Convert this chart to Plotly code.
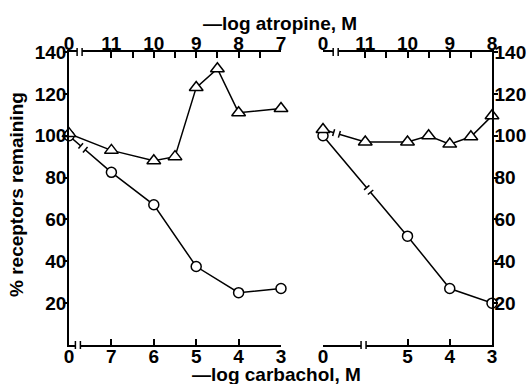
import math
import plotly.graph_objects as go

# ---------------- data ----------------
# left panel
carb_left = [0, 7, 6, 5, 4, 3]             # -log carbachol, M (bottom axis)
circ_left = [100, 82.5, 67, 37.5, 25, 27]   # % receptors remaining
atr_left = [0, 11, 10, 9.5, 9, 8.5, 8, 7]   # -log atropine, M (top axis)
tri_left = [101, 93, 88, 90, 123, 132, 111, 113]

# right panel
carb_right = [0, 5, 4, 3]
circ_right = [100, 52, 27, 20]
atr_right = [0, 11, 10, 9.5, 9, 8.5, 8]
tri_right = [103, 97, 97, 100, 96, 99.5, 109.5]

y_ticks = [20, 40, 60, 80, 100, 120, 140]
y_inner_ticks = [20, 40, 60, 80, 100, 120]

# axis layouts: value 0 sits just beyond the axis break
LB_ZERO, LT_ZERO = 8, 12      # left bottom / left top position of "0"
RB_ZERO, RT_ZERO = 7, 12      # right bottom / right top position of "0"


def place(vals, zero_pos):
    return [zero_pos if v == 0 else v for v in vals]


# ---------------- geometry ----------------
W, H = 529, 384
ML, MR, MT, MB = 69, 37, 52, 39
PW, PH = W - ML - MR, H - MT - MB
D1 = (281 - ML) / PW
D2 = (323 - ML) / PW

FONT = dict(family="Liberation Sans, Arial, sans-serif", size=19, color="black", weight="bold")
TFONT = dict(family="Liberation Sans, Arial, sans-serif", size=19, color="black", weight="bold")
LW = 1.5

fig = go.Figure()

mk_c = dict(symbol="circle", size=10, color="white", line=dict(color="black", width=LW))
mk_t = dict(symbol="triangle-up", size=12, color="white", line=dict(color="black", width=LW))
ln = dict(color="black", width=LW)

fig.add_trace(go.Scatter(x=place(carb_left, LB_ZERO), y=circ_left, mode="lines+markers",
                         marker=mk_c, line=ln, xaxis="x", yaxis="y", cliponaxis=False, showlegend=False))
fig.add_trace(go.Scatter(x=place(atr_left, LT_ZERO), y=tri_left, mode="lines+markers",
                         marker=mk_t, line=ln, xaxis="x2", yaxis="y", cliponaxis=False, showlegend=False))
fig.add_trace(go.Scatter(x=place(carb_right, RB_ZERO), y=circ_right, mode="lines+markers",
                         marker=mk_c, line=ln, xaxis="x3", yaxis="y2", cliponaxis=False, showlegend=False))
fig.add_trace(go.Scatter(x=place(atr_right, RT_ZERO), y=tri_right, mode="lines+markers",
                         marker=mk_t, line=ln, xaxis="x4", yaxis="y2", cliponaxis=False, showlegend=False))

common_x = dict(showline=True, linecolor="black", linewidth=LW, showgrid=False, zeroline=False,
                ticks="inside", ticklen=6, tickwidth=LW, tickcolor="black", tickfont=FONT,
                tickmode="array", fixedrange=True, automargin=False)
common_y = dict(showline=True, linecolor="black", linewidth=LW, showgrid=False, zeroline=False,
                tickwidth=LW, tickcolor="black", tickfont=FONT, range=[0, 140],
                tickmode="array", fixedrange=True, automargin=False)


def tv(vals, zero_pos):
    return place(vals, zero_pos), [str(v) for v in vals]


lb_v, lb_t = tv([0, 7, 6, 5, 4, 3], LB_ZERO)
lt_v, lt_t = tv([0, 11, 10, 9, 8, 7], LT_ZERO)
rb_v, rb_t = tv([0, 5, 4, 3], RB_ZERO)
rt_v, rt_t = tv([0, 11, 10, 9, 8], RT_ZERO)

fig.update_layout(
    width=W, height=H, margin=dict(l=ML, r=MR, t=MT, b=MB, autoexpand=False),
    paper_bgcolor="white", plot_bgcolor="white",
    xaxis=dict(common_x, domain=[0, D1], range=[LB_ZERO, 3], tickvals=lb_v, ticktext=lb_t,
               anchor="y", ticklabelstandoff=-7),
    xaxis2=dict(common_x, domain=[0, D1], range=[LT_ZERO, 7], tickvals=lt_v, ticktext=lt_t,
                overlaying="x", side="top", anchor="y", ticklabelstandoff=-7,
                minor=dict(tickmode="array", tickvals=[10.5, 9.5, 8.5, 7.5], ticks="inside",
                           ticklen=6, tickwidth=LW, tickcolor="black")),
    xaxis3=dict(common_x, domain=[D2, 1], range=[RB_ZERO, 3], tickvals=rb_v, ticktext=rb_t,
                anchor="y2", ticklabelstandoff=-7),
    xaxis4=dict(common_x, domain=[D2, 1], range=[RT_ZERO, 8], tickvals=rt_v, ticktext=rt_t,
                overlaying="x3", side="top", anchor="y2", ticklabelstandoff=-7,
                minor=dict(tickmode="array", tickvals=[10.5, 9.5, 8.5], ticks="inside",
                           ticklen=6, tickwidth=LW, tickcolor="black")),
    yaxis=dict(common_y, anchor="x", side="left", ticks="outside", ticklen=4, tickvals=y_ticks,
               ticklabelstandoff=-7),
    yaxis2=dict(common_y, anchor="x3", side="right", ticks="outside", ticklen=4, tickvals=y_ticks,
                ticklabelstandoff=-7),
    yaxis3=dict(common_y, anchor="x", side="right", overlaying="y", ticks="inside", ticklen=6,
                tickvals=y_inner_ticks, showticklabels=False),
    yaxis4=dict(common_y, anchor="x3", side="left", overlaying="y2", ticks="inside", ticklen=6,
                tickvals=y_inner_ticks, showticklabels=False),
)

# ---------------- break glyphs ----------------
shapes = []
ppy = PH / 140.0


def axis_break(xref, center, ppx, ytop):
    """gap with small end bars on a horizontal axis line (paper y = ytop)"""
    g = 2.5 / ppx
    dy = 4.0 / PH
    shapes.append(dict(type="rect", xref=xref, yref="paper", x0=center - g, x1=center + g,
                       y0=ytop - 3.0 / PH, y1=ytop + 3.0 / PH, fillcolor="white",
                       line=dict(width=0), layer="above"))
    for s in (-1, 1):
        shapes.append(dict(type="line", xref=xref, yref="paper", x0=center + s * g, x1=center + s * g,
                           y0=ytop - dy, y1=ytop + dy, line=dict(color="black", width=LW), layer="above"))


def line_break(xref, yref, r0, ppx, p0, p1, t):
    """gap with perpendicular end bars on a data line between points p0 and p1"""
    X0, Y0 = (r0 - p0[0]) * ppx, p0[1] * ppy
    X1, Y1 = (r0 - p1[0]) * ppx, p1[1] * ppy
    L = math.hypot(X1 - X0, Y1 - Y0)
    ux, uy = (X1 - X0) / L, (Y1 - Y0) / L
    nx, ny = -uy, ux
    CX, CY = X0 + t * (X1 - X0), Y0 + t * (Y1 - Y0)
    g, b = 3.0, 3.5

    def back(X, Y):
        return r0 - X / ppx, Y / ppy

    a = back(CX - g * ux, CY - g * uy)
    c = back(CX + g * ux, CY + g * uy)
    shapes.append(dict(type="line", xref=xref, yref=yref, x0=a[0], y0=a[1], x1=c[0], y1=c[1],
                       line=dict(color="white", width=4), layer="above"))
    for s in (-1, 1):
        EX, EY = CX + s * g * ux, CY + s * g * uy
        q0 = back(EX - b * nx, EY - b * ny)
        q1 = back(EX + b * nx, EY + b * ny)
        shapes.append(dict(type="line", xref=xref, yref=yref, x0=q0[0], y0=q0[1], x1=q1[0], y1=q1[1],
                           line=dict(color="black", width=LW), layer="above"))


ppx_l = D1 * PW / (LB_ZERO - 3)
ppx_lt = D1 * PW / (LT_ZERO - 7)
ppx_r = (1 - D2) * PW / (RB_ZERO - 3)
ppx_rt = (1 - D2) * PW / (RT_ZERO - 8)

axis_break("x2", 11.75, ppx_lt, 1.0)
axis_break("x", 7.79, ppx_l, 0.0)
axis_break("x4", 11.70, ppx_rt, 1.0)
axis_break("x3", 6.04, ppx_r, 0.0)

cl = place(carb_left, LB_ZERO)
line_break("x", "y", LB_ZERO, ppx_l, (cl[0], circ_left[0]), (cl[1], circ_left[1]), 0.33)
tr = place(atr_right, RT_ZERO)
line_break("x4", "y2", RT_ZERO, ppx_rt, (tr[0], tri_right[0]), (tr[1], tri_right[1]), 0.32)
cr = place(carb_right, RB_ZERO)
line_break("x3", "y2", RB_ZERO, ppx_r, (cr[0], circ_right[0]), (cr[1], circ_right[1]), 0.54)

fig.update_layout(shapes=shapes)

# ---------------- titles ----------------
fig.add_annotation(text="—log atropine, M", xref="paper", yref="paper",
                   x=(280 - ML) / PW, y=(H - MB - 24) / PH, showarrow=False, font=TFONT,
                   xanchor="center", yanchor="middle")
fig.add_annotation(text="—log carbachol, M", xref="paper", yref="paper",
                   x=(276 - ML) / PW, y=(H - MB - 374) / PH, showarrow=False, font=TFONT,
                   xanchor="center", yanchor="middle")
fig.add_annotation(text="% receptors remaining", xref="paper", yref="paper",
                   x=(16 - ML) / PW, y=(H - MB - 195) / PH, showarrow=False, font=FONT,
                   textangle=-90, xanchor="center", yanchor="middle")

fig.write_html("out.html")
